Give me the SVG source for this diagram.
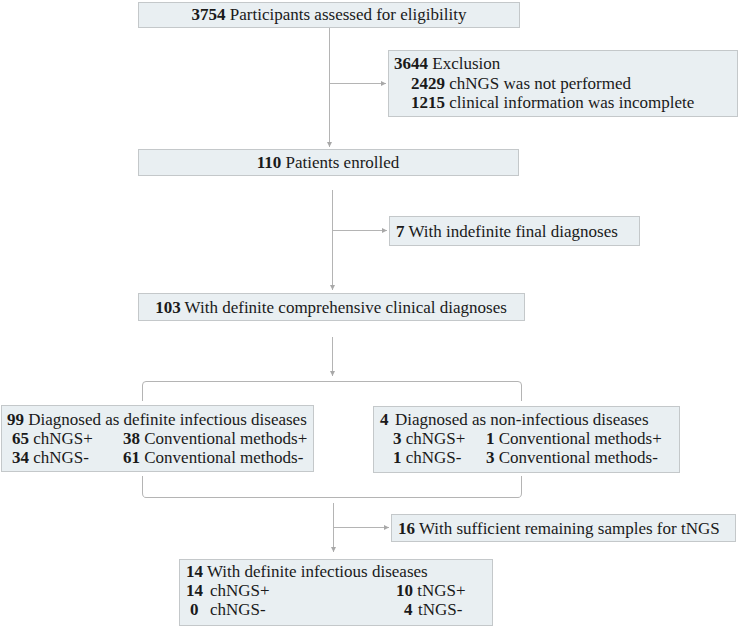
<svg xmlns="http://www.w3.org/2000/svg" width="742" height="627" viewBox="0 0 742 627">
<defs>
<marker id="ah" viewBox="0 0 10 10" refX="10" refY="5" markerWidth="5" markerHeight="5" orient="auto" markerUnits="userSpaceOnUse">
<path d="M0,0 L10,5 L0,10 z" fill="#a8a8a8"/>
</marker>
<style>
.box{fill:#e9eff2;stroke:#c4c8ca;stroke-width:1}
text{font-family:"Liberation Serif","Times New Roman","Nimbus Roman","Tinos","DejaVu Serif",serif;font-size:17px;fill:#1a1a1a}
.b{font-weight:bold}
.ln{fill:none;stroke:#b4b4b4;stroke-width:1}
.ar{fill:none;stroke:#b4b4b4;stroke-width:1;marker-end:url(#ah)}
</style>
</defs>
<rect width="742" height="627" fill="#ffffff"/>

<g id="connectors">
<path class="ar" d="M329.5,27 V147"/>
<path class="ar" d="M329.5,83.5 H386"/>
<path class="ar" d="M332.5,190 V290"/>
<path class="ar" d="M332.5,230.5 H387"/>
<path class="ar" d="M332.5,337 V376"/>
<path class="ln" d="M142.5,401 V385 Q142.5,381.5 146,381.5 H518 Q521.5,381.5 521.5,385 V401"/>
<path class="ln" d="M142.5,476 V493 Q142.5,497.5 146,497.5 H518 Q521.5,497.5 521.5,493 V476"/>
<path class="ar" d="M333.5,503 V552"/>
<path class="ar" d="M333.5,527.5 H389"/>
</g>

<g id="n1">
<rect class="box" x="138.5" y="2.5" width="381" height="25"/>
<text x="329" y="20" text-anchor="middle"><tspan class="b">3754</tspan> Participants assessed for eligibility</text>
</g>

<g id="n2">
<rect class="box" x="388.5" y="50.5" width="349" height="66"/>
<text x="394" y="69"><tspan class="b">3644</tspan> Exclusion</text>
<text x="411" y="89"><tspan class="b">2429</tspan> chNGS was not performed</text>
<text x="411" y="108"><tspan class="b">1215</tspan> clinical information was incomplete</text>
</g>

<g id="n3">
<rect class="box" x="138.5" y="149.5" width="380" height="26"/>
<text x="328" y="168" text-anchor="middle"><tspan class="b">110</tspan> Patients enrolled</text>
</g>

<g id="n4">
<rect class="box" x="389.5" y="216.5" width="250" height="29"/>
<text x="396" y="237"><tspan class="b">7</tspan> With indefinite final diagnoses</text>
</g>

<g id="n5">
<rect class="box" x="138.5" y="293.5" width="386" height="27"/>
<text x="331" y="313" text-anchor="middle"><tspan class="b">103</tspan> With definite comprehensive clinical diagnoses</text>
</g>

<g id="n6">
<rect class="box" x="1.5" y="405.5" width="312" height="66"/>
<text x="7" y="425"><tspan class="b">99</tspan> Diagnosed as definite infectious diseases</text>
<text x="12" y="444"><tspan class="b">65</tspan> chNGS+</text>
<text x="123" y="444"><tspan class="b">38</tspan> Conventional methods+</text>
<text x="12" y="463"><tspan class="b">34</tspan> chNGS-</text>
<text x="123" y="463"><tspan class="b">61</tspan> Conventional methods-</text>
</g>

<g id="n7">
<rect class="box" x="373.5" y="406.5" width="306" height="66"/>
<text x="380" y="425"><tspan class="b">4</tspan></text>
<text x="395" y="425">Diagnosed as non-infectious diseases</text>
<text x="393" y="444"><tspan class="b">3</tspan> chNGS+</text>
<text x="486" y="444"><tspan class="b">1</tspan> Conventional methods+</text>
<text x="393" y="463"><tspan class="b">1</tspan> chNGS-</text>
<text x="486" y="463"><tspan class="b">3</tspan> Conventional methods-</text>
</g>

<g id="n8">
<rect class="box" x="391.5" y="514.5" width="344" height="27"/>
<text x="398" y="534"><tspan class="b">16</tspan> With sufficient remaining samples for tNGS</text>
</g>

<g id="n9">
<rect class="box" x="179.5" y="559.5" width="313" height="66"/>
<text x="186" y="577"><tspan class="b">14</tspan> With definite infectious diseases</text>
<text x="186" y="596"><tspan class="b">14</tspan></text>
<text x="210" y="596">chNGS+</text>
<text x="190" y="615"><tspan class="b">0</tspan></text>
<text x="210" y="615">chNGS-</text>
<text x="396" y="596"><tspan class="b">10</tspan> tNGS+</text>
<text x="404" y="615"><tspan class="b">4</tspan></text>
<text x="418" y="615">tNGS-</text>
</g>
</svg>
